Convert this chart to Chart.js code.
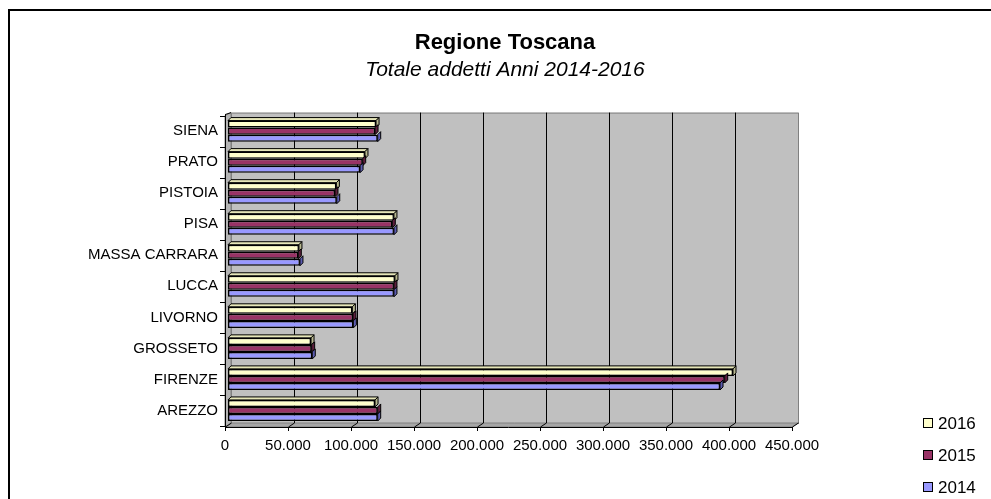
<!DOCTYPE html>
<html>
<head>
<meta charset="utf-8">
<title>Regione Toscana - Totale addetti</title>
<script src="https://cdn.jsdelivr.net/npm/chart.js@4.4.1/dist/chart.umd.min.js"></script>
<style>
    html, body { margin: 0; padding: 0; background: #fff; }
    #wrap { width: 991px; height: 499px; }
</style>
</head>
<body>
<div id="wrap"><canvas id="chart" width="991" height="499"></canvas></div>
<script>
var categories = ['SIENA', 'PRATO', 'PISTOIA', 'PISA', 'MASSA CARRARA', 'LUCCA', 'LIVORNO', 'GROSSETO', 'FIRENZE', 'AREZZO'];
var years = ['2016', '2015', '2014'];
var addetti2016 = [117500, 108700, 86000, 131700, 56300, 132500, 98700, 65900, 400800, 116700];
var addetti2015 = [116700, 106900, 84900, 130400, 55800, 131700, 99200, 66400, 394200, 118800];
var addetti2014 = [118800, 104800, 86300, 131700, 57100, 131700, 99500, 66900, 390500, 118800];
var xMax = 450000;
var xStep = 50000;

var fillColors = ['#FFFFCC', '#993366', '#9999FF'];
var sideColors = ['#B8B890', '#5C1F3D', '#5C5CB0'];
var topColors = ['#E6E6B8', '#7A2952', '#8080E0'];

Chart.defaults.font.family = '"Liberation Sans", Arial, sans-serif';
Chart.defaults.color = '#000';

function formatThousands(v) {
    return String(v).replace(/\B(?=(\d{3})+(?!\d))/g, '.');
}

// grey 3D walls, gridlines and the front axes, drawn under the bars
var wallsPlugin = {
    id: 'walls',
    beforeDatasetsDraw: function (chart) {
        var ctx = chart.ctx;
        var a = chart.chartArea;
        var xs = chart.scales.x;
        var ys = chart.scales.y;
        var bl = a.left + 3, br = a.right + 3, bt = a.top - 3, bb = a.bottom - 3;
        var fl = a.left - 3, fr = a.right - 3, ft = a.top, fb = a.bottom + 1;

        ctx.save();
        ctx.lineWidth = 1;

        // back wall
        ctx.fillStyle = '#C0C0C0';
        ctx.fillRect(bl, bt, br - bl, bb - bt);
        ctx.strokeStyle = '#808080';
        ctx.strokeRect(bl + 0.5, bt + 0.5, br - bl, bb - bt);

        // left side wall
        ctx.beginPath();
        ctx.moveTo(fl, ft); ctx.lineTo(bl, bt); ctx.lineTo(bl, bb); ctx.lineTo(fl, fb);
        ctx.closePath();
        ctx.fillStyle = '#B4B4B4';
        ctx.fill();
        ctx.strokeStyle = '#808080';
        ctx.stroke();

        // floor
        ctx.beginPath();
        ctx.moveTo(bl, bb); ctx.lineTo(br, bb); ctx.lineTo(fr, fb); ctx.lineTo(fl, fb);
        ctx.closePath();
        ctx.fillStyle = '#A6A6A6';
        ctx.fill();
        ctx.strokeStyle = '#808080';
        ctx.stroke();

        // gridlines on back wall + floor
        ctx.strokeStyle = '#000';
        xs.ticks.forEach(function (t) {
            var px = Math.round(xs.getPixelForValue(t.value)) + 3.5;
            if (t.value > 0 && t.value < xMax) {
                ctx.beginPath();
                ctx.moveTo(px, bt);
                ctx.lineTo(px, bb);
                ctx.stroke();
            }
            ctx.beginPath();
            ctx.moveTo(px, bb);
            ctx.lineTo(px - 6, fb);
            ctx.stroke();
        });

        // front x axis
        ctx.beginPath();
        ctx.moveTo(fl, fb + 0.5);
        ctx.lineTo(fr, fb + 0.5);
        ctx.stroke();
        xs.ticks.forEach(function (t) {
            var px = Math.round(xs.getPixelForValue(t.value)) - 2.5;
            ctx.beginPath();
            ctx.moveTo(px, fb);
            ctx.lineTo(px, fb + 4);
            ctx.stroke();
        });

        // front y axis
        ctx.beginPath();
        ctx.moveTo(fl + 0.5, ft - 1);
        ctx.lineTo(fl + 0.5, fb);
        ctx.moveTo(fl, ft - 1);
        ctx.lineTo(bl, bt);
        ctx.stroke();
        var n = categories.length;
        for (var i = 0; i <= n; i++) {
            var py = Math.round(ys.top + i * ys.height / n) + 0.5;
            ctx.beginPath();
            ctx.moveTo(fl - 5, py);
            ctx.lineTo(fl, py);
            ctx.stroke();
        }
        ctx.restore();
    },
    afterDatasetsDraw: function (chart) {
        // end caps and top face so the bars look like Excel 3D bars
        var ctx = chart.ctx;
        ctx.save();
        ctx.lineWidth = 1;
        ctx.strokeStyle = '#000';
        chart.data.datasets.forEach(function (ds, di) {
            var meta = chart.getDatasetMeta(di);
            meta.data.forEach(function (el) {
                var p = el.getProps(['x', 'y', 'base', 'height'], true);
                var top = p.y - p.height / 2, bottom = p.y + p.height / 2;
                if (di === 0) {
                    ctx.beginPath();
                    ctx.moveTo(p.base, top); ctx.lineTo(p.base + 3, top - 3);
                    ctx.lineTo(p.x + 3, top - 3); ctx.lineTo(p.x, top);
                    ctx.closePath();
                    ctx.fillStyle = topColors[di];
                    ctx.fill();
                    ctx.stroke();
                }
                ctx.beginPath();
                ctx.moveTo(p.x, top); ctx.lineTo(p.x + 3, top - 3);
                ctx.lineTo(p.x + 3, bottom - 3); ctx.lineTo(p.x, bottom);
                ctx.closePath();
                ctx.fillStyle = sideColors[di];
                ctx.fill();
                ctx.stroke();
            });
        });
        ctx.restore();
    },
    afterDraw: function (chart) {
        var ctx = chart.ctx;
        ctx.save();
        // legend on the right
        ctx.font = '17px "Liberation Sans", Arial, sans-serif';
        ctx.textBaseline = 'middle';
        ctx.textAlign = 'left';
        chart.data.datasets.forEach(function (ds, i) {
            var cy = 423 + i * 32;
            ctx.fillStyle = ds.backgroundColor;
            ctx.fillRect(923, cy - 5, 10, 10);
            ctx.strokeStyle = '#000';
            ctx.lineWidth = 1;
            ctx.strokeRect(923.5, cy - 4.5, 9, 9);
            ctx.fillStyle = '#000';
            ctx.fillText(ds.label, 938, cy + 1);
        });
        // chart frame
        ctx.lineWidth = 2;
        ctx.strokeStyle = '#000';
        ctx.strokeRect(9, 10, 2000, 2000);
        ctx.restore();
    }
};

var seriesValues = [addetti2016, addetti2015, addetti2014];
var datasets = years.map(function (y, i) {
    return {
        label: y,
        data: seriesValues[i],
        backgroundColor: fillColors[i],
        borderColor: '#000',
        borderWidth: 1.5,
        borderSkipped: false,
        categoryPercentage: 0.68,
        barPercentage: 1.0
    };
});

new Chart(document.getElementById('chart').getContext('2d'), {
    type: 'bar',
    data: { labels: categories, datasets: datasets },
    options: {
        indexAxis: 'y',
        responsive: false,
        animation: false,
        devicePixelRatio: 1,
        layout: { padding: { left: 19, right: 0, top: 0, bottom: 0 } },
        plugins: {
            legend: { display: false },
            tooltip: { enabled: false },
            title: {
                display: true,
                text: 'Regione Toscana',
                color: '#000',
                font: { size: 22, weight: 'bold' },
                padding: { top: 30, bottom: 1 }
            },
            subtitle: {
                display: true,
                text: 'Totale addetti Anni 2014-2016',
                color: '#000',
                font: { size: 21, style: 'italic', weight: 'normal' },
                padding: { top: 0, bottom: 33 }
            }
        },
        scales: {
            x: {
                type: 'linear',
                position: 'bottom',
                min: 0,
                max: xMax,
                grid: { display: false, drawTicks: false },
                border: { display: false },
                ticks: {
                    stepSize: xStep,
                    padding: 11,
                    labelOffset: -3,
                    maxRotation: 0,
                    autoSkip: false,
                    color: '#000',
                    font: { size: 15 },
                    callback: function (v) { return formatThousands(v); }
                },
                afterFit: function (s) { s.height = 73; }
            },
            y: {
                type: 'category',
                position: 'left',
                grid: { display: false, drawTicks: false },
                border: { display: false },
                ticks: { padding: 10, autoSkip: false, color: '#000', font: { size: 15 } },
                afterFit: function (s) { s.width = 209; }
            },
            yRight: {
                type: 'category',
                position: 'right',
                grid: { display: false, drawTicks: false },
                border: { display: false },
                ticks: { display: false },
                afterFit: function (s) { s.width = 196; }
            }
        }
    },
    plugins: [wallsPlugin]
});
</script>
</body>
</html>
